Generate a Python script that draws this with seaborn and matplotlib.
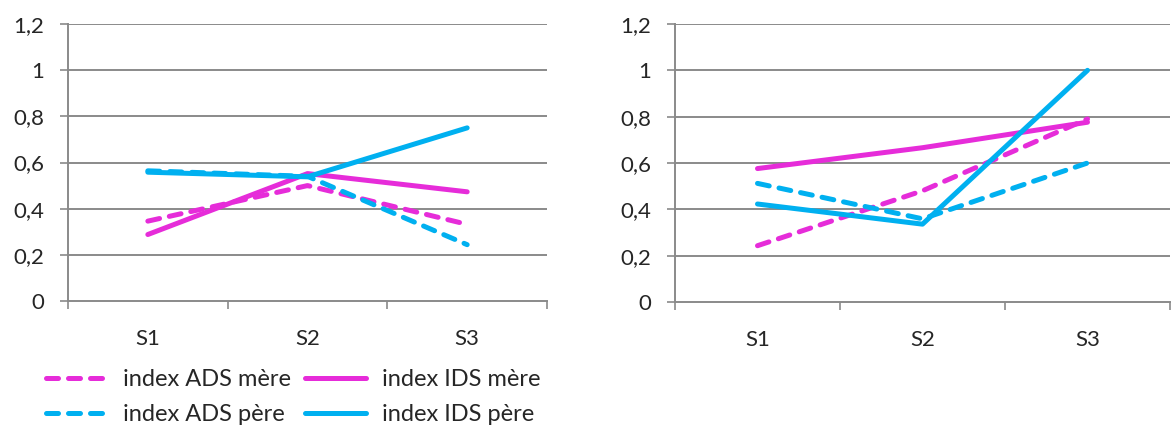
import matplotlib
matplotlib.use("Agg")
import matplotlib.pyplot as plt
import seaborn as sns
import pandas as pd
from matplotlib.lines import Line2D

sessions = ["S1", "S2", "S3"]
# left chart
left_ads_mere = [0.346, 0.50, 0.332]
left_ids_mere = [0.288, 0.552, 0.473]
left_ads_pere = [0.564, 0.54, 0.244]
left_ids_pere = [0.558, 0.538, 0.75]
# right chart
right_ads_mere = [0.243, 0.48, 0.79]
right_ids_mere = [0.576, 0.666, 0.776]
right_ads_pere = [0.512, 0.359, 0.60]
right_ids_pere = [0.423, 0.336, 1.0]

yticks = [0, 0.2, 0.4, 0.6, 0.8, 1.0, 1.2]
ytick_labels = ["0", "0,2", "0,4", "0,6", "0,8", "1", "1,2"]
series_names = ["index ADS mère", "index IDS mère", "index ADS père", "index IDS père"]

PINK = "#E62CD9"
BLUE = "#00B0F0"
GRID = "#8A8A8A"
DASH = (2.4, 2.0)
LW = 3.6

sns.set_theme(style="white")
plt.rcParams["font.family"] = ["Lato", "DejaVu Sans"]

def build(vals):
    rows = []
    for name, v in zip(series_names, vals):
        for s, y in zip(sessions, v):
            rows.append({"session": sessions.index(s), "value": y, "serie": name})
    return pd.DataFrame(rows)

palette = {series_names[0]: PINK, series_names[1]: PINK,
           series_names[2]: BLUE, series_names[3]: BLUE}
dashes = {series_names[0]: DASH, series_names[1]: "",
          series_names[2]: DASH, series_names[3]: ""}

fig = plt.figure(figsize=(11.74, 4.29), dpi=100)
ax1 = fig.add_axes([68/1174, 1-301/429, (547-68)/1174, (301-24)/429])
ax2 = fig.add_axes([675/1174, 1-302/429, (1170-675)/1174, (302-24)/429])

for ax, vals in [(ax1, [left_ads_mere, left_ids_mere, left_ads_pere, left_ids_pere]),
                 (ax2, [right_ads_mere, right_ids_mere, right_ads_pere, right_ids_pere])]:
    df = build(vals)
    sns.lineplot(data=df, x="session", y="value", hue="serie", style="serie",
                 palette=palette, dashes=dashes, linewidth=LW, ax=ax,
                 legend=False, zorder=3)
    for l in ax.lines:
        l.set_solid_capstyle("round")
        l.set_dash_capstyle("round")
    ax.set_xlim(-0.5, 2.5)
    ax.set_ylim(0, 1.2)
    ax.set_yticks(yticks)
    ax.set_yticklabels(ytick_labels, fontsize=16)
    ax.set_xticks([0, 1, 2])
    ax.set_xticklabels(sessions, fontsize=16)
    ax.set_xticks([-0.5, 0.5, 1.5, 2.5], minor=True)
    ax.tick_params(axis="x", which="major", length=0, pad=20)
    ax.tick_params(axis="x", which="minor", length=6, width=1.2, color=GRID, direction="out", bottom=True)
    ax.tick_params(axis="y", length=6, width=1.2, color=GRID, direction="out", left=True, pad=11)
    ax.set_xlabel("")
    ax.set_ylabel("")
    for y in yticks[1:]:
        ax.axhline(y, color=GRID, lw=1.4, zorder=1)
    for sp in ["top", "right"]:
        ax.spines[sp].set_visible(False)
    for sp in ["left", "bottom"]:
        ax.spines[sp].set_color(GRID)
        ax.spines[sp].set_linewidth(1.4)

h = {
    series_names[0]: Line2D([0], [0], color=PINK, lw=LW, dashes=DASH, dash_capstyle="round"),
    series_names[1]: Line2D([0], [0], color=PINK, lw=LW, solid_capstyle="round"),
    series_names[2]: Line2D([0], [0], color=BLUE, lw=LW, dashes=DASH, dash_capstyle="round"),
    series_names[3]: Line2D([0], [0], color=BLUE, lw=LW, solid_capstyle="round"),
}
order = [series_names[0], series_names[2], series_names[1], series_names[3]]
fig.legend([h[n] for n in order], order, ncol=2, loc="center left",
           bbox_to_anchor=(46/1174, 1-397/429), frameon=False, fontsize=17,
           handlelength=2.6, handletextpad=0.65, columnspacing=0.6, labelspacing=0.6,
           borderpad=0, borderaxespad=0)

fig.savefig("out.png", dpi=100, facecolor="white")
